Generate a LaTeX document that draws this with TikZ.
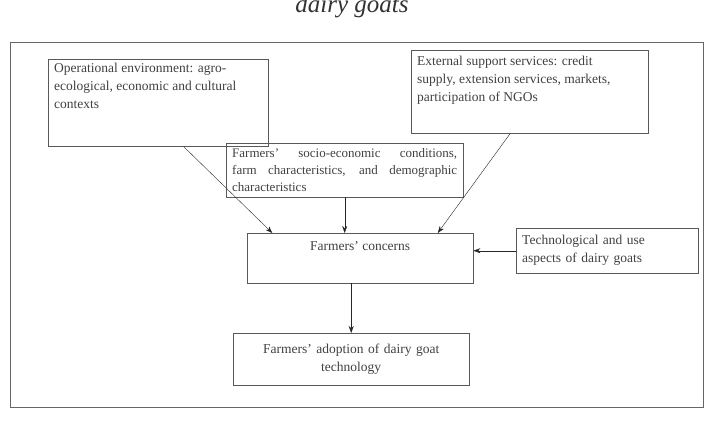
\documentclass[tikz,border=0pt]{standalone}
\usepackage{fontspec}
\setmainfont{Liberation Serif}
\usetikzlibrary{arrows.meta}

\begin{document}
\begin{tikzpicture}[x=1pt,y=-1pt,
  box/.style={draw=black!65, text=black!75, inner xsep=6pt, inner ysep=4pt,
    font=\fontsize{13.5}{18}\selectfont, anchor=north west},
  flow/.style={draw=black!85, -{Stealth[length=7pt,width=5pt]}}]
  \useasboundingbox (0,0) rectangle (711,420);
  \node[font=\fontsize{25}{25}\itshape\selectfont, text=black!80, anchor=base] (title) at (352,13) {dairy goats};
  \draw[black!60] (10,42) rectangle (703,407);
  % boxes
  \node[box] (ops) at (48,59)
    {\parbox[c][79pt][t]{208pt}{\raggedright Operational environment: agro-\\ecological, economic and cultural\\contexts}};
  \node[box, inner ysep=6pt] (ext) at (411,50)
    {\parbox[c][71pt][t]{225pt}{\raggedright External support services: credit\\supply, extension services, markets,\\participation of NGOs}};
  \node[box, text width=225pt, align=justify, font=\fontsize{13}{17}\selectfont, minimum height=54pt] (soc) at (226,143)
    {Farmers' socio-economic conditions,\linebreak farm characteristics, and demographic\linebreak characteristics};
  \node[box, inner ysep=8pt] (concerns) at (247,233)
    {\parbox[c][34pt][t]{214pt}{\centering Farmers' concerns}};
  \node[box, text width=170pt, align=left, minimum height=45pt] (tech) at (516,228)
    {Technological and use\\aspects of dairy goats};
  \node[box, text width=224pt, align=center, minimum height=52pt] (adopt) at (233,333)
    {Farmers' adoption of dairy goat\\technology};
  % arrows
  \draw[flow] (ops.-60) -- (concerns.164);
  \draw[flow] (ext.-115) -- (concerns.18);
  \draw[flow] (soc.south) -- (soc.south |- concerns.north);
  \draw[flow] (tech.west) -- (tech.west -| concerns.east);
  \draw[flow] (adopt.north |- concerns.south) -- (adopt.north);
\end{tikzpicture}
\end{document}
